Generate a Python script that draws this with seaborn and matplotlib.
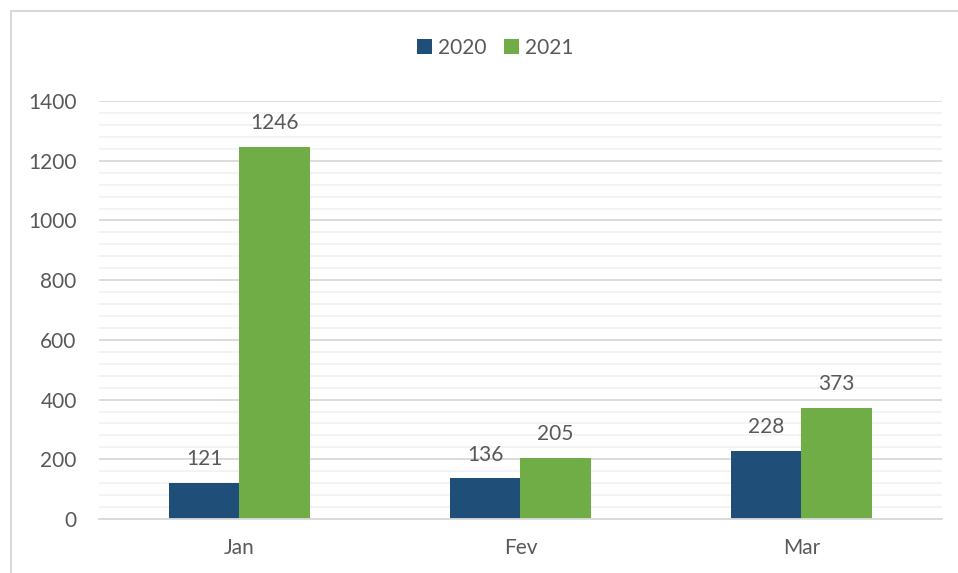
import matplotlib
matplotlib.use('Agg')
import matplotlib.pyplot as plt
import seaborn as sns
import pandas as pd
from matplotlib.patches import Rectangle
from matplotlib.ticker import MultipleLocator

# dados
meses = ['Jan', 'Fev', 'Mar']
anos = ['2020', '2021']
valores_2020 = [121, 136, 228]
valores_2021 = [1246, 205, 373]
cores = ['#1F4E79', '#70AD47']

df = pd.DataFrame({
    'mes': meses * 2,
    'ano': [anos[0]] * 3 + [anos[1]] * 3,
    'valor': valores_2020 + valores_2021,
})

sns.set_style('white')
plt.rcParams['font.family'] = ['Lato', 'DejaVu Sans']
cor_texto = '#595959'

fig = plt.figure(figsize=(9.58, 5.73), dpi=100)
ax = fig.add_axes([0.1033, 0.0942, 0.88, 0.7295])

sns.barplot(data=df, x='mes', y='valor', hue='ano', palette=cores,
            width=0.5, gap=0, saturation=1, linewidth=0, ax=ax, legend=True)

for cont in ax.containers:
    ax.bar_label(cont, padding=10, fontsize=15, color=cor_texto)

ax.set_ylim(0, 1400)
ax.set_xlim(-0.5, 2.5)
ax.yaxis.set_major_locator(MultipleLocator(200))
ax.yaxis.set_minor_locator(MultipleLocator(40))
ax.grid(axis='y', which='major', color='#D9D9D9', linewidth=1.3)
ax.grid(axis='y', which='minor', color='#F2F2F2', linewidth=1.3)
ax.set_axisbelow(True)
for s in ['top', 'right', 'left']:
    ax.spines[s].set_visible(False)
ax.spines['bottom'].set_color('#D9D9D9')
ax.spines['bottom'].set_linewidth(1.3)
ax.tick_params(axis='both', which='both', length=0, labelsize=15,
               labelcolor=cor_texto)
ax.tick_params(axis='y', pad=16)
ax.tick_params(axis='x', pad=14)
ax.set_xlabel('')
ax.set_ylabel('')

ax.legend(loc='center', bbox_to_anchor=(0.47, 1.127), ncol=2, frameon=False,
          fontsize=15, labelcolor=cor_texto, handlelength=0.7,
          handleheight=0.7, handletextpad=0.3, columnspacing=0.85)

# moldura do gráfico
fig.patches.append(Rectangle((11 / 958, -0.1), 1.2, 1 - 11 / 573 + 0.1,
                             transform=fig.transFigure, fill=False,
                             edgecolor='#D9D9D9', linewidth=1.5))

fig.savefig('out.png', dpi=100)
